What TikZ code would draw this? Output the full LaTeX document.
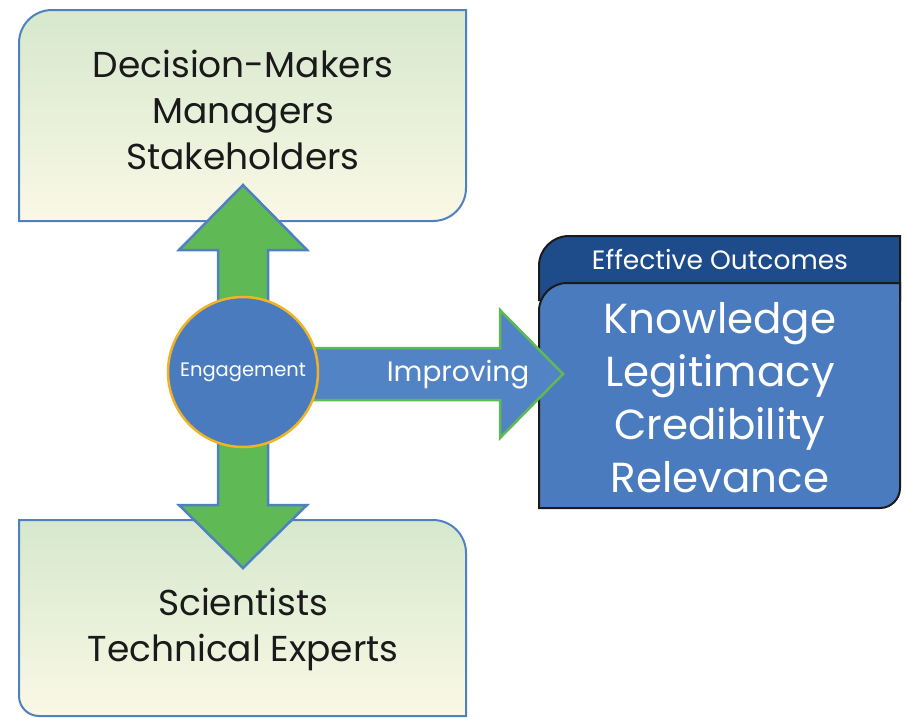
\documentclass[tikz,border=0pt]{standalone}
\usepackage{fontspec}
\setmainfont{Poppins}
\definecolor{boxtop}{HTML}{D6E8CD}
\definecolor{boxbot}{HTML}{FAF8E6}
\definecolor{boxline}{HTML}{4F80C2}
\definecolor{arrgreen}{HTML}{5FBA55}
\definecolor{arrblue}{HTML}{5283C4}
\definecolor{circblue}{HTML}{4A7BBF}
\definecolor{circgold}{HTML}{F0B323}
\definecolor{hdrblue}{HTML}{1E4C8A}
\definecolor{mainblue}{HTML}{4A7BBF}
\definecolor{txtdark}{HTML}{1A1A1A}
\tikzset{
  groupbox/.style={top color=boxtop, bottom color=boxbot, draw=boxline, line width=2pt},
  greenarrow/.style={fill=arrgreen, draw=boxline, line width=2.5pt, line join=miter},
  bluearrow/.style={fill=arrblue, draw=arrgreen, line width=2.5pt, line join=miter},
  outbox/.style={draw=txtdark, line width=2pt},
  bigtext/.style={align=center, text=txtdark, font=\fontsize{36}{46}\selectfont},
  outtext/.style={align=center, text=white, font=\fontsize{42}{53}\selectfont},
}
\begin{document}
\begin{tikzpicture}[x=1pt,y=-1pt]
\useasboundingbox (0,0) rectangle (907,718);
% top box
\path[groupbox] (19,221) -- (19,43) arc[start angle=180,end angle=270,radius=33] -- (466,10) -- (466,188) arc[start angle=0,end angle=90,radius=33] -- cycle;
\node[bigtext] (top) at (243,110) {Decision-Makers\\Managers\\Stakeholders};
% bottom box
\path[groupbox] (19,520) -- (433,520) arc[start angle=270,end angle=360,radius=33] -- (466,716) -- (39,716) arc[start angle=90,end angle=180,radius=20] -- cycle;
\node[bigtext] (bot) at (243,629) {Scientists\\Technical Experts};
% outcomes box
\path[outbox, fill=hdrblue] (539,300) -- (539,266) arc[start angle=180,end angle=270,radius=30] -- (900,236) -- (900,300) -- cycle;
\path[outbox, fill=mainblue] (539,508) -- (539,311) arc[start angle=180,end angle=270,radius=28] -- (900,283) -- (900,488) arc[start angle=0,end angle=90,radius=20] -- cycle;
\node[text=white, font=\fontsize{26.5}{30}\selectfont] (hdr) at (720,259) {Effective Outcomes};
\node[outtext] (out) at (720,398) {Knowledge\\Legitimacy\\Credibility\\Relevance};
% vertical double arrow
\path[greenarrow] (243,185) -- (307,250) -- (268,250) -- (268,505) -- (307,505) -- (243,568) -- (179,505) -- (218,505) -- (218,250) -- (179,250) -- cycle;
% horizontal arrow
\path[bluearrow] (300,348) -- (500,348) -- (500,310) -- (563,374) -- (500,438) -- (500,400) -- (300,400) -- cycle;
\node[text=white, font=\fontsize{28}{32}\selectfont] (imp) at (458,375) {Improving};
% circle
\node[circle, minimum size=150pt, inner sep=0pt, fill=circblue, draw=circgold, line width=2.5pt, text=white, font=\fontsize{19.5}{22}\selectfont] (eng) at (243,372) {Engagement};
\end{tikzpicture}
\end{document}
